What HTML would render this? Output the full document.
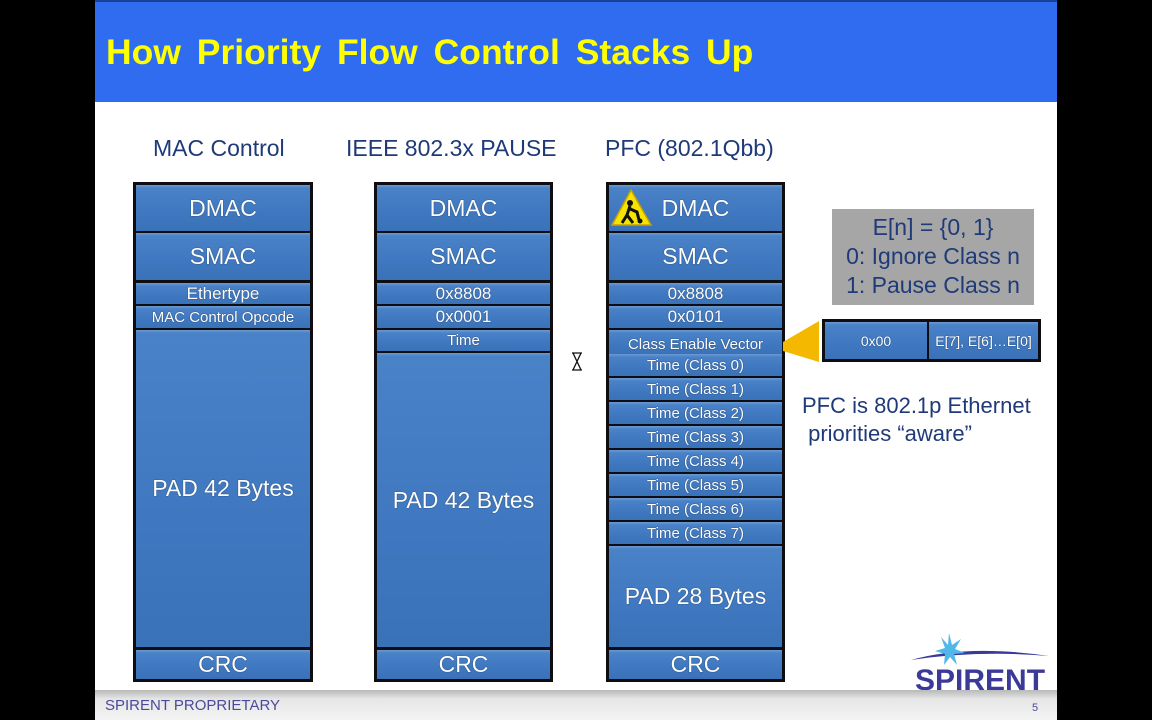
<!DOCTYPE html>
<html><head><meta charset="utf-8"><style>
body{margin:0;width:1152px;height:720px;background:#000;position:relative;overflow:hidden;font-family:"Liberation Sans",sans-serif}
#slide{position:absolute;left:95px;top:0;width:962px;height:720px;background:#fff}
.t{position:absolute;left:0;top:0;width:962px;height:102px;background:#2f6cf0;border-top:2px solid #1c3f9a;box-sizing:border-box}
.t span{position:absolute;left:11px;top:30px;font-weight:bold;font-size:35.5px;color:#ffff00;white-space:nowrap;word-spacing:6px}
.h{position:absolute;top:135px;font-size:23px;color:#1f3a78;white-space:nowrap}
.fr{position:absolute;background:#0e0e12;}
.c{position:absolute;left:3px;right:3px;background:linear-gradient(#6a9ad4 0,#4a82c8 3px,#3f78c0 60%,#3a72b8);color:#fff;text-align:center;display:flex;align-items:center;justify-content:center;white-space:nowrap;text-shadow:0 0 1px #123}
.L{font-size:23px}.M{font-size:17px}.S{font-size:15px}
.foot{position:absolute;left:0;top:690px;width:962px;height:30px;background:linear-gradient(#b8b8b8,#e6e6e6 30%,#f4f4f4)}
</style></head><body>
<div id="slide">
<div class="t"><span>How Priority Flow Control Stacks Up</span></div>
<div class="h" style="left:58px">MAC Control</div>
<div class="h" style="left:251px">IEEE 802.3x PAUSE</div>
<div class="h" style="left:510px">PFC (802.1Qbb)</div>

<div class="fr" style="left:38px;top:182px;width:180px;height:500px">
<div class="c L" style="top:3px;height:46px">DMAC</div>
<div class="c L" style="top:51px;height:47px">SMAC</div>
<div class="c M" style="top:101px;height:21px">Ethertype</div>
<div class="c S" style="top:124px;height:22px">MAC Control Opcode</div>
<div class="c L" style="top:148px;height:317px">PAD 42 Bytes</div>
<div class="c L" style="top:468px;height:29px">CRC</div>
</div>

<div class="fr" style="left:279px;top:182px;width:179px;height:500px">
<div class="c L" style="top:3px;height:46px">DMAC</div>
<div class="c L" style="top:51px;height:47px">SMAC</div>
<div class="c M" style="top:101px;height:21px">0x8808</div>
<div class="c M" style="top:124px;height:22px">0x0001</div>
<div class="c S" style="top:148px;height:21px">Time</div>
<div class="c L" style="top:171px;height:294px">PAD 42 Bytes</div>
<div class="c L" style="top:468px;height:29px">CRC</div>
</div>

<div class="fr" style="left:511px;top:182px;width:179px;height:500px">
<div class="c L" style="top:3px;height:46px">DMAC</div>
<svg style="position:absolute;left:5px;top:7px" width="42" height="38"><polygon points="20,1 40,36 1,36" fill="#f5e400" stroke="#c8a000" stroke-width="1.5"/><circle cx="19" cy="14" r="3" fill="#111"/><path d="M19,17 L16,26 L11,34 M16,26 L22,34 M17,19 L26,23 L28,31" stroke="#111" stroke-width="3" fill="none"/><circle cx="29" cy="32" r="2.5" fill="#111"/></svg>
<div class="c L" style="top:51px;height:47px">SMAC</div>
<div class="c M" style="top:101px;height:21px">0x8808</div>
<div class="c M" style="top:124px;height:22px">0x0101</div>
<div class="c S" style="top:148px;height:24px;padding-top:4px;box-sizing:border-box">Class Enable Vector</div>
<div class="c S" style="top:172px;height:22px">Time (Class 0)</div>
<div class="c S" style="top:196px;height:22px">Time (Class 1)</div>
<div class="c S" style="top:220px;height:22px">Time (Class 2)</div>
<div class="c S" style="top:244px;height:22px">Time (Class 3)</div>
<div class="c S" style="top:268px;height:22px">Time (Class 4)</div>
<div class="c S" style="top:292px;height:22px">Time (Class 5)</div>
<div class="c S" style="top:316px;height:22px">Time (Class 6)</div>
<div class="c S" style="top:340px;height:22px">Time (Class 7)</div>
<div class="c L" style="top:364px;height:101px">PAD 28 Bytes</div>
<div class="c L" style="top:468px;height:29px">CRC</div>
</div>

<svg style="position:absolute;left:476px;top:352px" width="12" height="19"><path d="M1,1 H11 M1,18 H11 M2,1 L10,1 L6,9.5 L10,18 L2,18 L6,9.5 Z" stroke="#111" stroke-width="1.3" fill="#fff"/></svg>

<svg style="position:absolute;left:688px;top:318px" width="40" height="46"><polygon points="0,24 36,3 36,44 0,33" fill="#f5b800"/></svg>

<div style="position:absolute;left:737px;top:209px;width:202px;height:96px;background:#a6a6a6;color:#1f3a78;font-size:23px;text-align:center;line-height:29px;padding-top:4px;box-sizing:border-box">E[n] = {0, 1}<br>0: Ignore Class n<br>1: Pause Class n</div>

<div class="fr" style="left:727px;top:319px;width:219px;height:43px">
<div class="c" style="left:3px;right:auto;width:102px;top:3px;height:37px;font-size:14px">0x00</div>
<div class="c" style="left:107px;right:3px;top:3px;height:37px;font-size:14px">E[7], E[6]…E[0]</div>
</div>

<div style="position:absolute;left:707px;top:392px;font-size:22px;color:#1f3a78;line-height:28px;white-space:nowrap">PFC is 802.1p Ethernet<br>&nbsp;priorities “aware”</div>

<svg style="position:absolute;left:812px;top:630px" width="150" height="64">
<path d="M4,30 Q60,14 142,26 Q70,20 4,30Z" fill="#3b3a98"/>
<polygon points="42,3 45,15 54,9 48,19 58,23 47,24 50,35 43,27 37,35 38,24 28,21 38,18 34,7 41,15" fill="#4fb8e8"/>
<text x="8" y="60" font-family="Liberation Sans" font-weight="bold" font-size="30" fill="#3b3a98">SPIRENT</text>
</svg>

<div class="foot"></div>
<div style="position:absolute;left:10px;top:697px;font-size:15px;color:#4a4a9a">SPIRENT PROPRIETARY</div>
<div style="position:absolute;left:937px;top:702px;font-size:11px;color:#4a4a9a">5</div>
</div>
</body></html>
